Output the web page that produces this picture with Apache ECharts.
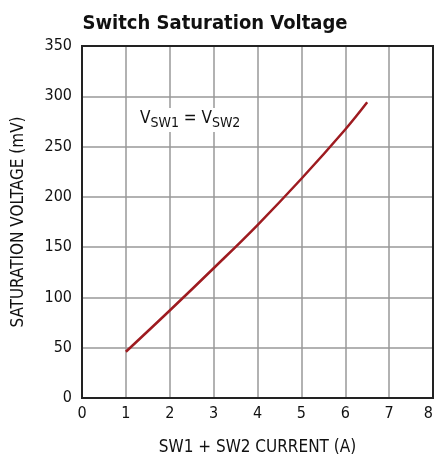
<!DOCTYPE html>
<html><head><meta charset="utf-8">
<script src="https://cdn.jsdelivr.net/npm/echarts@6/dist/echarts.min.js"></script>
<style>html,body{margin:0;padding:0;background:#fff}#c{width:436px;height:458px}</style>
</head><body><div id="c"></div>
<script>
const currentA = [1, 2, 3, 4, 5, 6, 6.5];
const satVoltage = [46, 87, 129, 172, 218, 267, 294];
const xTicks = [0, 1, 2, 3, 4, 5, 6, 7, 8];
const yTicks = [0, 50, 100, 150, 200, 250, 300, 350];

const font = '"DejaVu Sans Condensed", "Liberation Sans Narrow", sans-serif';
const chart = echarts.init(document.getElementById('c'));
chart.setOption({
  animation: false,
  title: {
    text: 'Switch Saturation Voltage', left: 210, top: 9, textAlign: 'center',
    textStyle: { fontFamily: font, fontWeight: 'bold', fontSize: 20, color: '#111' }
  },
  grid: { left: 82, right: 3, top: 46, bottom: 60, containLabel: false, outerBoundsMode: 'none' },
  xAxis: {
    type: 'value', min: xTicks[0], max: xTicks[xTicks.length - 1], interval: 1,
    name: 'SW1 + SW2 CURRENT (A)', nameLocation: 'middle', nameGap: 41,
    nameTextStyle: { fontFamily: font, fontSize: 17, color: '#111' },
    axisLine: { show: true, lineStyle: { color: '#222', width: 2 } },
    axisTick: { show: false },
    axisLabel: { fontFamily: font, fontSize: 16, color: '#111', margin: 8, alignMaxLabel: 'right' },
    splitLine: { show: true, lineStyle: { color: '#999', width: 1.5 } }
  },
  yAxis: {
    type: 'value', min: yTicks[0], max: yTicks[yTicks.length - 1], interval: 50,
    name: 'SATURATION VOLTAGE (mV)', nameLocation: 'middle', nameGap: 55,
    nameTextStyle: { fontFamily: font, fontSize: 17, color: '#111' },
    axisLine: { show: true, lineStyle: { color: '#222', width: 2 } },
    axisTick: { show: false },
    axisLabel: { fontFamily: font, fontSize: 16, color: '#111', margin: 10 },
    splitLine: { show: true, lineStyle: { color: '#999', width: 1.5 } }
  },
  graphic: [
    { type: 'rect', shape: { x: 82, y: 46, width: 351, height: 352 }, style: { fill: 'none', stroke: '#222', lineWidth: 2 }, z: 10 },
    { type: 'text', left: 137, top: 108, z: 20,
      style: {
        text: '{v|V}{s|SW1}{v| = V}{s|SW2}',
        fill: '#111', backgroundColor: '#fff', padding: [2, 3],
        rich: {
          v: { fontFamily: font, fontSize: 17, fill: '#111', verticalAlign: 'top' },
          s: { fontFamily: font, fontSize: 14, fill: '#111', padding: [6, 0, 0, 0] }
        }
      } }
  ],
  series: [{
    type: 'line', smooth: 0.4, showSymbol: false,
    data: currentA.map((x, i) => [x, satVoltage[i]]),
    lineStyle: { color: '#9e1b20', width: 2.5 }
  }]
});
</script></body></html>
